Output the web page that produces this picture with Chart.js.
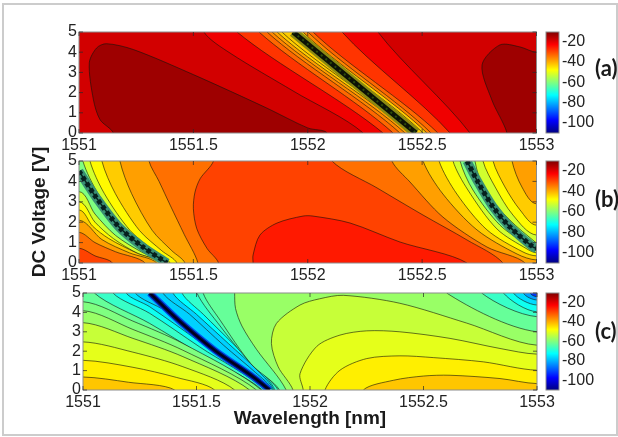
<!DOCTYPE html>
<html>
<head>
<meta charset="utf-8">
<script src="https://cdn.jsdelivr.net/npm/chart.js@4"></script>
<style>
  body { margin: 0; background: #fff; overflow: hidden; }
  #frame { position: absolute; left: 2px; top: 3px; width: 612px; height: 429px; border: 2px solid #ccc; }
  canvas { position: absolute; left: 0; top: 0; filter: blur(0.4px); }
</style>
</head>
<body>
<div id="frame"></div>
<canvas id="a" width="618" height="437"></canvas>
<canvas id="b" width="618" height="437"></canvas>
<canvas id="c" width="618" height="437"></canvas>
<canvas id="barA" width="618" height="437"></canvas>
<canvas id="barB" width="618" height="437"></canvas>
<canvas id="barC" width="618" height="437"></canvas>
<script>
// tick values
const wavelengthTicks = [1551, 1551.5, 1552, 1552.5, 1553];
const voltageTicks = [0, 1, 2, 3, 4, 5];
const colorbarTicks = [-100, -80, -60, -40, -20];
const colorbarRange = [-110, -10.5];

// panel (a): contours as [wavelength, voltage], level in dB
const panelALevels = [-18.5, -21.5, -28, -33, -36, -38.4, -42.8, -42.8, -42.8, -36, -33, -28, -21.5, -18.5, -13.5, -13.5];
const panelAClosures = ['all', 'R', 'R', 'R', 'R', 'R', 'R', 'R', 'R', 'R', 'R', 'R', 'R', 'R', 'O', 'BR'];
const panelACurves = [
  [],
  [[1551.546, 5], [1551.66, 3.96], [1551.936, 2.08], [1552.242, 0]],
  [[1551.691, 5], [1552.329, 0]],
  [[1551.787, 5], [1552.373, 0]],
  [[1551.822, 5], [1552.403, 0]],
  [[1551.844, 5], [1552.425, 0]],
  [[1551.866, 5], [1552.443, 0]],
  [[1551.887, 5], [1552.456, 0]],
  [[1551.957, 5], [1552.504, 0]],
  [[1551.979, 5], [1552.521, 0]],
  [[1552.001, 5], [1552.539, 0]],
  [[1552.023, 5], [1552.569, 0]],
  [[1552.15, 5], [1552.622, 0]],
  [[1552.307, 5], [1552.709, 0]],
  [[1551.15, 0], [1551.092, 0.66], [1551.063, 1.65], [1551.045, 3.47], [1551.077, 4.21], [1551.12, 4.42], [1551.238, 4.13], [1551.5, 2.89], [1551.82, 1.24], [1552, 0.25], [1552.085, 0]],
  [[1552.871, 0], [1552.805, 1.63], [1552.762, 3.37], [1552.84, 4.36], [1552.928, 4.26], [1553, 4]]
];
const panelACore = [[1551.936, 5], [1552.473, 0]];

// panel (b)
const panelBLevels = [-60.3, -52.3, -47.3, -42.8, -38.4, -33.9, -29.4, -52.3, -47.3, -42.8, -38.4, -33.9, -29.4, -33.9, -38.4, -42.8, -47.3, -52.3, -60.3, -52.3, -47.3, -42.8, -38.4, -25.4];
const panelBClosures = ['all', 'BL', 'BL', 'BL', 'BL', 'BL', 'BL', 'R', 'R', 'R', 'R', 'R', 'R', 'R', 'R', 'TR', 'TR', 'TR', 'TR', 'TR', 'TR', 'TR', 'TR', 'O'];
const panelBCurves = [
  [],
  [[1551.38, 0], [1551.28, 0.5], [1551.16, 1.35], [1551.07, 2.4], [1551, 3.5]],
  [[1551.37, 0], [1551.26, 0.45], [1551.15, 1.2], [1551.07, 2], [1551, 3]],
  [[1551.355, 0], [1551.25, 0.5], [1551.13, 1.2], [1551.06, 1.8], [1551, 2.6]],
  [[1551.34, 0], [1551.22, 0.5], [1551.1, 1.15], [1551, 2.1]],
  [[1551.289, 0], [1551.16, 0.55], [1551.07, 1], [1551, 1.5]],
  [[1551.146, 0], [1551.07, 0.35], [1551, 0.72]],
  [[1551.017, 5], [1551.084, 3.4], [1551.204, 1.6], [1551.315, 0.6], [1551.39, 0]],
  [[1551.048, 5], [1551.111, 3.4], [1551.223, 1.6], [1551.328, 0.6], [1551.398, 0]],
  [[1551.1, 5], [1551.159, 3.4], [1551.264, 1.6], [1551.362, 0.6], [1551.428, 0]],
  [[1551.179, 5], [1551.23, 3.4], [1551.32, 1.6], [1551.406, 0.6], [1551.463, 0]],
  [[1551.306, 5], [1551.35, 4], [1551.4, 2.8], [1551.46, 1.4], [1551.52, 0]],
  [[1551.588, 5], [1551.53, 4.14], [1551.507, 3.47], [1551.5, 2.66], [1551.515, 1.68], [1551.56, 0.71], [1551.61, 0]],
  [[1552.106, 5], [1552.303, 3.68], [1552.504, 2.35], [1552.696, 1.13], [1552.853, 0]],
  [[1552.368, 5], [1552.447, 3.97], [1552.591, 2.25], [1552.784, 0.78], [1552.95, 0]],
  [[1552.504, 5], [1552.591, 3.38], [1552.74, 1.62], [1552.915, 0.44], [1553, 0.15]],
  [[1552.574, 5], [1552.652, 3.38], [1552.784, 1.62], [1552.941, 0.54], [1553, 0.35]],
  [[1552.635, 5], [1552.7, 3.58], [1552.827, 1.67], [1552.958, 0.69], [1553, 0.5]],
  [[1552.666, 5], [1552.722, 3.58], [1552.84, 1.86], [1552.963, 0.88], [1553, 0.7]],
  [[1552.731, 5], [1552.772, 3.58], [1552.884, 2.1], [1552.994, 1.03], [1553, 1]],
  [[1552.766, 5], [1552.819, 3.73], [1552.897, 2.35], [1553, 1.37]],
  [[1552.81, 5], [1552.862, 3.73], [1552.928, 2.6], [1553, 1.85]],
  [[1552.893, 5], [1552.936, 3.73], [1553, 2.9]],
  [[1551.761, 0], [1551.761, 0.39], [1551.791, 1.37], [1551.866, 1.96], [1551.979, 2.3], [1552.023, 2.3], [1552.185, 1.96], [1552.403, 1.03], [1552.696, 0]]
];
const panelBCoreLeft = [[1551, 4.5], [1551.074, 3.23], [1551.175, 1.76], [1551.28, 0.78], [1551.385, 0]];
const panelBCoreRight = [[1552.696, 5], [1552.744, 3.97], [1552.81, 2.75], [1552.884, 1.76], [1552.985, 0.78], [1553, 0.72]];

// panel (c)
const panelCLevels = [-77.2, -75.2, -71.2, -67.2, -62.7, -60.3, -57.8, -53.3, -50.3, -46.3, -42.3, -77.2, -72.7, -67.7, -65.2, -62.7, -57.8, -62.7, -67.2, -71.2, -76.2, -82.1, -92.1, -53.3, -50.3, -46.3, -42.3];
const panelCClosures = ['all', 'L', 'L', 'L', 'L', 'BL', 'BL', 'BL', 'BL', 'BL', 'BL', 'R', 'R', 'R', 'R', 'R', 'R', 'TR', 'TR', 'TR', 'TR', 'TR', 'TR', 'BR', 'BR', 'BR', 'BR'];
const panelCCurves = [
  [],
  [[1551.23, 5], [1551.36, 4.1], [1551.53, 2.6], [1551.81, 0]],
  [[1551.19, 5], [1551.294, 4.29], [1551.514, 2.48], [1551.805, 0]],
  [[1551.132, 5], [1551.294, 3.95], [1551.514, 2.22], [1551.8, 0]],
  [[1551.05, 5], [1551.294, 3.43], [1551.514, 1.88], [1551.79, 0]],
  [[1551.786, 0], [1551.44, 2.4], [1551.22, 3.55], [1551, 4.55]],
  [[1551.764, 0], [1551.44, 2.05], [1551.22, 3.12], [1551, 4.09]],
  [[1551.734, 0], [1551.44, 1.72], [1551.22, 2.66], [1551, 3.47]],
  [[1551.668, 0], [1551.44, 1.2], [1551.22, 1.95], [1551, 2.48]],
  [[1551.58, 0], [1551.411, 0.65], [1551.22, 1.17], [1551, 1.53]],
  [[1551.404, 0], [1551.2, 0.4], [1551, 0.67]],
  [[1551.352, 5], [1551.47, 3.9], [1551.62, 2.3], [1551.76, 0.9], [1551.835, 0]],
  [[1551.396, 5], [1551.5, 3.9], [1551.64, 2.4], [1551.77, 1], [1551.84, 0]],
  [[1551.436, 5], [1551.53, 3.9], [1551.66, 2.4], [1551.78, 1], [1551.845, 0]],
  [[1551.502, 5], [1551.604, 3.3], [1551.722, 1.6], [1551.86, 0]],
  [[1551.529, 5], [1551.604, 3.6], [1551.74, 1.35], [1551.866, 0]],
  [[1551.668, 5], [1551.672, 4.2], [1551.7, 3.3], [1551.764, 2.1], [1551.895, 0]],
  [[1552.602, 5], [1553, 3]],
  [[1552.756, 5], [1553, 3.78]],
  [[1552.852, 5], [1553, 4.03]],
  [[1552.896, 5], [1553, 4.38]],
  [[1552.94, 5], [1553, 4.64]],
  [[1552.97, 5], [1553, 4.81]],
  [[1551.925, 0], [1551.86, 1.19], [1551.83, 2.4], [1551.852, 3.43], [1551.956, 4.38], [1552.042, 4.7], [1552.147, 4.88], [1552.396, 4.47], [1552.69, 3.45], [1553, 2.31]],
  [[1551.97, 0], [1551.956, 0.84], [1552.03, 2.25], [1552.132, 2.83], [1552.25, 3.05], [1552.396, 3], [1552.617, 2.66], [1552.837, 2.14], [1553, 1.85]],
  [[1552.066, 0], [1552.132, 1.02], [1552.25, 1.62], [1552.396, 1.76], [1552.543, 1.67], [1552.764, 1.45], [1553, 1.02]],
  [[1552.235, 0], [1552.367, 0.5], [1552.5, 0.72], [1552.617, 0.76], [1552.837, 0.59], [1553, 0.33]]
];
const panelCCore = [[1551.294, 5], [1551.42, 3.6], [1551.58, 2.05], [1551.75, 0.67], [1551.822, 0]];

// colours
function jetRGB(t) {
  const c = v => Math.round(255 * Math.max(0, Math.min(1, v)));
  return 'rgb(' + c(Math.min(4 * t - 1.5, 4.5 - 4 * t)) + ',' + c(Math.min(4 * t - 0.5, 3.5 - 4 * t)) + ',' + c(Math.min(4 * t + 0.5, 2.5 - 4 * t)) + ')';
}
function levelColor(level) {
  return jetRGB((level - colorbarRange[0]) / (colorbarRange[1] - colorbarRange[0]));
}

const closureCorners = {
  R: [[1554, -1], [1554, 6]],
  L: [[1550, -1], [1550, 6]],
  BL: [[1550, -1]],
  TR: [[1554, 6]],
  BR: [[1554, -1]],
  O: []
};

// push contour ends past the axes so the clipped edge leaves no stroke
function padEnd(p) {
  if (p[1] >= 5) return [p[0], 6];
  if (p[1] <= 0) return [p[0], -1];
  return p[0] <= 1551 ? [1550, p[1]] : [1554, p[1]];
}

function toXY(points) {
  return points.map(p => ({ x: p[0], y: p[1] }));
}

function regionDataset(curve, closure, level) {
  const points = closure === 'all'
    ? [[1550, -1], [1554, -1], [1554, 6], [1550, 6]]
    : [padEnd(curve[0]), ...curve, padEnd(curve[curve.length - 1]), ...closureCorners[closure]];
  return {
    data: toXY(points),
    showLine: true,
    fill: 'shape',
    tension: 0.3,
    backgroundColor: levelColor(level),
    borderColor: 'rgba(20,20,10,0.6)',
    borderWidth: 1,
    pointRadius: 0
  };
}

function coreDataset(curve, color, width, dash) {
  return {
    data: toXY(curve),
    showLine: true,
    fill: false,
    tension: 0.3,
    borderColor: color,
    borderWidth: width,
    borderDash: dash || [],
    pointRadius: 0
  };
}

// inward MATLAB style ticks and the box around each axes
const axesBox = {
  id: 'axesBox',
  afterDatasetsDraw(chart) {
    const { ctx, chartArea: a, scales } = chart;
    ctx.save();
    ctx.strokeStyle = '#8c8c8c';
    ctx.lineWidth = 1;
    ctx.strokeRect(a.left, a.top, a.right - a.left, a.bottom - a.top);
    if (scales.x.type === 'linear') {
      ctx.strokeStyle = 'rgba(40,40,40,0.7)';
      ctx.beginPath();
      wavelengthTicks.forEach(v => {
        const x = scales.x.getPixelForValue(v);
        ctx.moveTo(x, a.bottom); ctx.lineTo(x, a.bottom - 4);
        ctx.moveTo(x, a.top); ctx.lineTo(x, a.top + 4);
      });
      voltageTicks.forEach(v => {
        const y = scales.y.getPixelForValue(v);
        ctx.moveTo(a.left, y); ctx.lineTo(a.left + 4, y);
        ctx.moveTo(a.right, y); ctx.lineTo(a.right - 4, y);
      });
      ctx.stroke();
    }
    ctx.restore();
  }
};

const panelLabel = {
  id: 'panelLabel',
  afterDraw(chart, args, opts) {
    if (!opts.text) return;
    const { ctx, chartArea: a } = chart;
    ctx.save();
    ctx.fillStyle = '#1a1a1a';
    ctx.font = 'bold 22px Lato';
    ctx.textAlign = 'left';
    ctx.textBaseline = 'middle';
    ctx.fillText(opts.text, a.right + 36, a.top + opts.dy);
    ctx.restore();
  }
};

const tickFont = { family: 'Liberation Sans', size: 16 };

function drawPanel(id, box, levels, closures, curves, coreSets, yTitle, xTitle) {
  const yWidth = yTitle ? 51 : 24;
  const xHeight = xTitle ? 40 : 26;
  // the first dataset in the list is drawn on top, so the painting order is reversed
  const datasets = curves.map((c, i) => regionDataset(c, closures[i], levels[i])).concat(coreSets).reverse();
  new Chart(document.getElementById(id), {
    type: 'scatter',
    data: { datasets },
    plugins: [axesBox],
    options: {
      responsive: false,
      animation: false,
      events: [],
      layout: { padding: { left: box.left - yWidth, top: box.top, right: 618 - box.right, bottom: 437 - box.bottom - xHeight } },
      plugins: { legend: { display: false }, tooltip: { enabled: false } },
      scales: {
        x: {
          type: 'linear',
          min: 1551,
          max: 1553,
          afterBuildTicks: s => { s.ticks = wavelengthTicks.map(value => ({ value })); },
          afterFit: s => { s.height = xHeight; },
          grid: { display: false, drawTicks: false },
          border: { display: false },
          ticks: { font: tickFont, color: '#222', padding: 3, maxRotation: 0, autoSkip: false, callback: v => String(v) },
          title: { display: !!xTitle, text: xTitle, color: '#1a1a1a', padding: 0, font: { family: 'Liberation Sans', size: 19, weight: 'bold' } }
        },
        y: {
          min: 0,
          max: 5,
          afterBuildTicks: s => { s.ticks = voltageTicks.map(value => ({ value })); },
          afterFit: s => { s.width = yWidth; },
          grid: { display: false, drawTicks: false },
          border: { display: false },
          ticks: { font: tickFont, color: '#222', padding: 2, autoSkip: false },
          title: { display: !!yTitle, text: yTitle, color: '#1a1a1a', padding: 0, font: { family: 'Liberation Sans', size: 19, weight: 'bold' } }
        }
      }
    }
  });
}

function drawColorbar(id, box, label, labelDy) {
  new Chart(document.getElementById(id), {
    type: 'bar',
    data: {
      labels: [''],
      datasets: [{
        data: [colorbarRange],
        barPercentage: 1,
        categoryPercentage: 1,
        backgroundColor: ctx => {
          const a = ctx.chart.chartArea;
          if (!a) return '#888';
          const g = ctx.chart.ctx.createLinearGradient(0, a.bottom, 0, a.top);
          [0, 0.125, 0.375, 0.625, 0.875, 1].forEach(t => g.addColorStop(t, jetRGB(t)));
          return g;
        }
      }]
    },
    plugins: [axesBox, panelLabel],
    options: {
      responsive: false,
      animation: false,
      events: [],
      layout: { padding: { left: box.left, top: box.top, right: 618 - box.right - 40, bottom: 437 - box.bottom } },
      plugins: { legend: { display: false }, tooltip: { enabled: false }, panelLabel: { text: label, dy: labelDy } },
      scales: {
        x: { display: false },
        y: {
          position: 'right',
          min: colorbarRange[0],
          max: colorbarRange[1],
          afterBuildTicks: s => { s.ticks = colorbarTicks.map(value => ({ value })); },
          afterFit: s => { s.width = 40; },
          grid: { display: false, drawTicks: false },
          border: { display: false },
          ticks: { font: tickFont, color: '#222', padding: 3, autoSkip: false }
        }
      }
    }
  });
}

drawPanel('a', { left: 79, top: 32, right: 536.5, bottom: 133 }, panelALevels, panelAClosures, panelACurves,
  [coreDataset(panelACore, '#8a8a12', 10), coreDataset(panelACore, '#0c1206', 5), coreDataset(panelACore, '#2c4a0c', 2, [2, 4])], '', '');
drawPanel('b', { left: 79, top: 161, right: 536.5, bottom: 263 }, panelBLevels, panelBClosures, panelBCurves,
  [coreDataset(panelBCoreLeft, '#3a8f74', 9), coreDataset(panelBCoreLeft, '#06201e', 5, [4, 3]), coreDataset(panelBCoreLeft, '#06201e', 1.5),
   coreDataset(panelBCoreRight, '#3a8f74', 9), coreDataset(panelBCoreRight, '#06201e', 5, [4, 3]), coreDataset(panelBCoreRight, '#06201e', 1.5)], 'DC Voltage [V]', '');
drawPanel('c', { left: 83, top: 293, right: 537, bottom: 390 }, panelCLevels, panelCClosures, panelCCurves,
  [coreDataset(panelCCore, '#0055ee', 7), coreDataset(panelCCore, '#000d66', 4.5), coreDataset(panelCCore, '#000014', 2)], '', 'Wavelength [nm]');

drawColorbar('barA', { left: 546, top: 32, right: 559, bottom: 133 }, '(a)', 37);
drawColorbar('barB', { left: 546, top: 161, right: 559, bottom: 263 }, '(b)', 39);
drawColorbar('barC', { left: 546, top: 293, right: 559, bottom: 390 }, '(c)', 39);
</script>
</body>
</html>
